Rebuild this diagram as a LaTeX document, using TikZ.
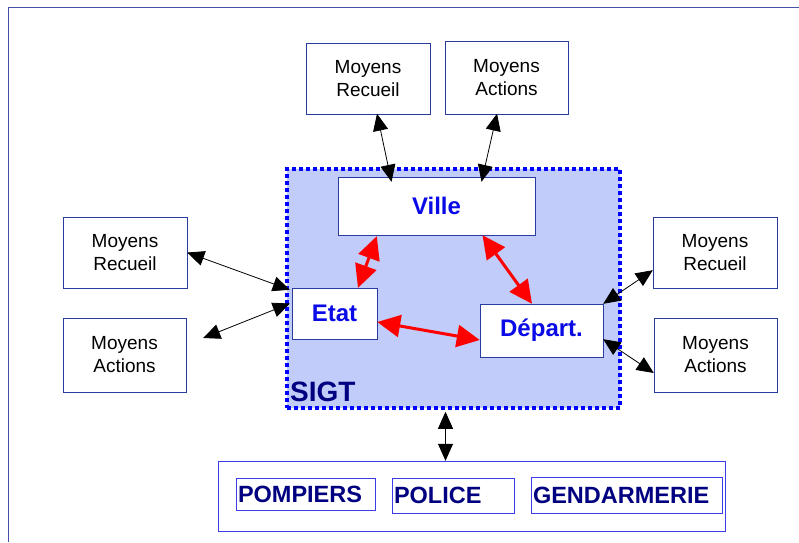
\documentclass[tikz,border=0pt]{standalone}
\usepackage{fontspec}
\setmainfont{Liberation Sans}
\usetikzlibrary{arrows.meta}
\definecolor{boxblue}{RGB}{40,60,160}
\definecolor{frameblue}{RGB}{70,80,170}
\definecolor{unitblue}{RGB}{60,60,235}
\definecolor{textblue}{RGB}{10,10,230}
\definecolor{navytext}{RGB}{0,0,128}
\definecolor{sigtfill}{RGB}{193,204,250}
\begin{document}
\begin{tikzpicture}[x=1pt,y=-1pt,
	moyens/.style={draw=boxblue,fill=white,align=center,inner sep=0pt,
		font=\fontsize{19}{23}\selectfont,text=black},
	entite/.style={draw=boxblue,fill=white,inner sep=0pt,
		font=\fontsize{24}{28}\selectfont\bfseries,text=textblue},
	unite/.style={draw=unitblue,inner xsep=2pt,inner ysep=0pt,align=left,
		font=\fontsize{23.5}{28}\selectfont\bfseries,text=navytext},
	lien/.style={black,line width=.8pt,{Triangle[length=17pt,width=15pt]}-{Triangle[length=17pt,width=15pt]}},
	echange/.style={red,line width=3pt,{Triangle[length=23pt,width=22pt]}-{Triangle[length=23pt,width=22pt]}}]
	\useasboundingbox (0,0) rectangle (799,542);
	\draw [frameblue,line width=.6pt] (8,542) -- (8,7) -- (799,7);

	% le SIGT
	\node [draw=blue,fill=sigtfill,line width=3.5pt,dash pattern=on 4pt off 3pt,
		minimum width=333pt,minimum height=239pt,inner sep=0pt] (sigt) at (453.5,288.5) {};
	\node [anchor=south west,inner sep=0pt,text=navytext,
		font=\fontsize{28}{32}\selectfont\bfseries] (sigtlbl) at (290,402) {SIGT};
	\node [entite,minimum width=197pt,minimum height=58pt] (ville) at (436.5,206) {Ville};
	\node [entite,minimum width=85pt,minimum height=51pt] (etat) at (334.5,313.5) {Etat};
	\node [entite,minimum width=123pt,minimum height=53pt] (depart) at (541.5,330.5) {D\'epart.};

	% les moyens
	\node [moyens,minimum width=124pt,minimum height=71pt] (moyrecT) at (368,79) {Moyens\\Recueil};
	\node [moyens,minimum width=123pt,minimum height=73pt] (moyactT) at (506.5,78) {Moyens\\Actions};
	\node [moyens,minimum width=124pt,minimum height=71pt] (moyrecL) at (125,252.5) {Moyens\\Recueil};
	\node [moyens,minimum width=123pt,minimum height=74pt] (moyactL) at (124.5,355) {Moyens\\Actions};
	\node [moyens,minimum width=124pt,minimum height=71pt] (moyrecR) at (715,252.5) {Moyens\\Recueil};
	\node [moyens,minimum width=123pt,minimum height=74pt] (moyactR) at (715.5,355) {Moyens\\Actions};

	% les services
	\node [draw=unitblue,minimum width=507pt,minimum height=70pt,inner sep=0pt] (services) at (471.5,496) {};
	\node [unite,text width=135pt,minimum height=32pt] (pompiers) at (305.5,494) {POMPIERS};
	\node [unite,text width=118pt,minimum height=35pt] (police) at (453,495.5) {POLICE};
	\node [unite,text width=187pt,minimum height=36pt] (gendarmerie) at (626.5,495) {GENDARMERIE};

	% liaisons
	\draw [lien] ([shift={(9,-1)}]moyrecT.south) -- ([shift={(-45,5)}]ville.north);
	\draw [lien] ([shift={(-9.5,-1)}]moyactT.south) -- ([shift={(45,5)}]ville.north);
	\draw [lien] (moyrecL.east) -- ([shift={(-2,2)}]etat.north west);
	\draw [lien] ([shift={(17,-17)}]moyactL.east) -- ([shift={(-2,-10)}]etat.west);
	\draw [lien] ([shift={(0,-18)}]moyrecR.south west) -- (depart.north east);
	\draw [lien] ([shift={(0,18)}]moyactR.west) -- ([shift={(0,-18)}]depart.south east);
	\draw [lien] ([shift={(-8,2)}]sigt.south) -- ([shift={(-26,0)}]services.north);

	\draw [echange] ([shift={(39,1)}]ville.south west) -- ([shift={(23.5,0)}]etat.north);
	\draw [echange] ([shift={(46,0)}]ville.south) -- ([shift={(-9.5,0)}]depart.north);
	\draw [echange] ([shift={(0,8.5)}]etat.east) -- ([shift={(0,9.5)}]depart.west);
\end{tikzpicture}
\end{document}
